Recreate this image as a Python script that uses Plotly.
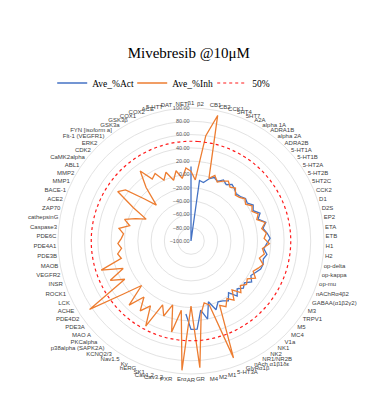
import plotly.graph_objects as go

categories = [
    "β1", "β2", "CB1", "CB2", "CCK1", "5HT4", "5HT7", "A2A", "alpha 1A", "ADRA1B",
    "alpha 2A", "ADRA2B", "5-HT1A", "5-HT1B", "5-HT2A", "5-HT2B", "5HT2C", "CCK2", "D1", "D2S",
    "EP2", "ETA", "ETB", "H1", "H2", "op-delta", "op-kappa", "op-mu", "nAChRα4β2", "GABAA(α1β2γ2)",
    "M3", "TRPV1", "M5", "MC4", "V1a", "NK1", "NK2", "NR1/NR2B", "nAch α1β1δε", "GlyRα1β",
    "5-HT3A", "M1", "M2", "M4", "GR", "AR", "Erα", "PXR", "Cav3.2", "Cav1.2",
    "SK1", "hERG", "Kv", "Nav1.5", "KCNQ2/3", "p38alpha (SAPK2A)", "PKCalpha", "MAO A", "PDE3A", "PDE4D2",
    "ACHE", "LCK", "ROCK1", "INSR", "VEGFR2", "MAOB", "PDE3B", "PDE4A1", "PDE6C", "Caspase3",
    "cathepsinG", "ZAP70", "ACE2", "BACE-1", "MMP1", "MMP2", "ABL1", "CaMK2alpha", "CDK2", "ERK2",
    "Flt-1 (VEGFR1)", "FYN [isoform a]", "GSK3a", "GSK3β", "COX1", "COX2", "ACE", "5-HTT", "DAT", "NET",
]

ave_act = [
    12, -100, -8, -10, -3, 2, -2, 4, 0, 5,
    2, -2, 0, 4, 2, 8, 4, 12, 6, 16,
    10, 15, 19, 14, 10, 16, 12, 14, 13, 8,
    4, 10, 2, 6, 0, 8, -4, 6, 2, 0,
    10, -5, 20, 5, 33, 33, 10, None, None, None,
    None, None, None, None, None, None, None, None, None, None,
    None, None, None, None, None, None, None, None, None, None,
    None, None, None, None, None, None, None, None, None, None,
    None, None, None, None, None, None, None, None, None, None,
]

ave_inh = [
    5, -8, 60, 93, -2, 5, -3, 2, 6, 0,
    4, -4, -2, 3, -1, 6, 2, 9, 4, 15,
    8, 14, 10, 18, 8, 12, 6, 14, 9, 4,
    12, 2, 6, 0, 8, -4, 10, 2, 12, 6,
    87, 0, -5, 10, 91, -2, 95, 5, 40, 0,
    20, 5, 45, 15, 30, 10, 34, 0, 30, 84,
    15, 35, 10, 42, 8, 12, 5, 10, 5, 2,
    10, -5, 5, -10, -25, 0, 33, 25, -5, -25,
    5, 30, 10, 15, 0, 10, -5, 8, -5, 10,
]

threshold = [50] * len(categories)

radial_ticks = [-100, -80, -60, -40, -20, 0, 20, 40, 60, 80, 100]


def closed(vals):
    return list(vals) + [vals[0]]


theta_closed = categories + [categories[0]]

fig = go.Figure()
fig.add_trace(go.Scatterpolar(
    r=ave_act, theta=categories, mode="lines", name="Ave_%Act",
    line=dict(color="#4472C4", width=1.3), connectgaps=False,
))
fig.add_trace(go.Scatterpolar(
    r=closed(ave_inh), theta=theta_closed, mode="lines", name="Ave_%Inh",
    line=dict(color="#ED7D31", width=1.3),
))
fig.add_trace(go.Scatterpolar(
    r=closed(threshold), theta=theta_closed, mode="lines", name="50%",
    line=dict(color="#FF1A1A", width=1.2, dash="dot", shape="spline"),
))

fig.update_layout(
    width=369, height=405,
    margin=dict(l=0, r=0, t=0, b=0),
    paper_bgcolor="white",
    plot_bgcolor="white",
    title=dict(text="Mivebresib @10μM", x=0.49, xanchor="center", y=1 - 45 / 405, yanchor="middle",
               font=dict(family="Liberation Serif", size=15, color="#000000")),
    legend=dict(orientation="h", x=0.445, xanchor="center", y=1 - 75 / 405, yanchor="middle",
                font=dict(family="Liberation Serif", size=9.5, color="#000000"),
                itemwidth=30, entrywidth=35, entrywidthmode="pixels", tracegroupgap=0),
    polar=dict(
        domain=dict(x=[50 / 369, 316 / 369], y=[(172 - 133) / 405, (172 + 133) / 405]),
        bgcolor="white",
        radialaxis=dict(
            range=[-100, 100], tickvals=radial_ticks, ticksuffix="%", tickformat=".2f",
            angle=90, tickangle=90, side="counterclockwise",
            showline=False, ticks="", gridcolor="#E3E3E3", gridwidth=1,
            tickfont=dict(family="Liberation Sans", size=5.5, color="#595959"),
        ),
        angularaxis=dict(
            type="category", categoryarray=categories, direction="clockwise", rotation=90,
            showgrid=False, showline=True, linecolor="#E3E3E3", ticks="",
            tickfont=dict(family="Liberation Sans", size=6, color="#404040"),
        ),
    ),
)

fig.write_html("out.html")
